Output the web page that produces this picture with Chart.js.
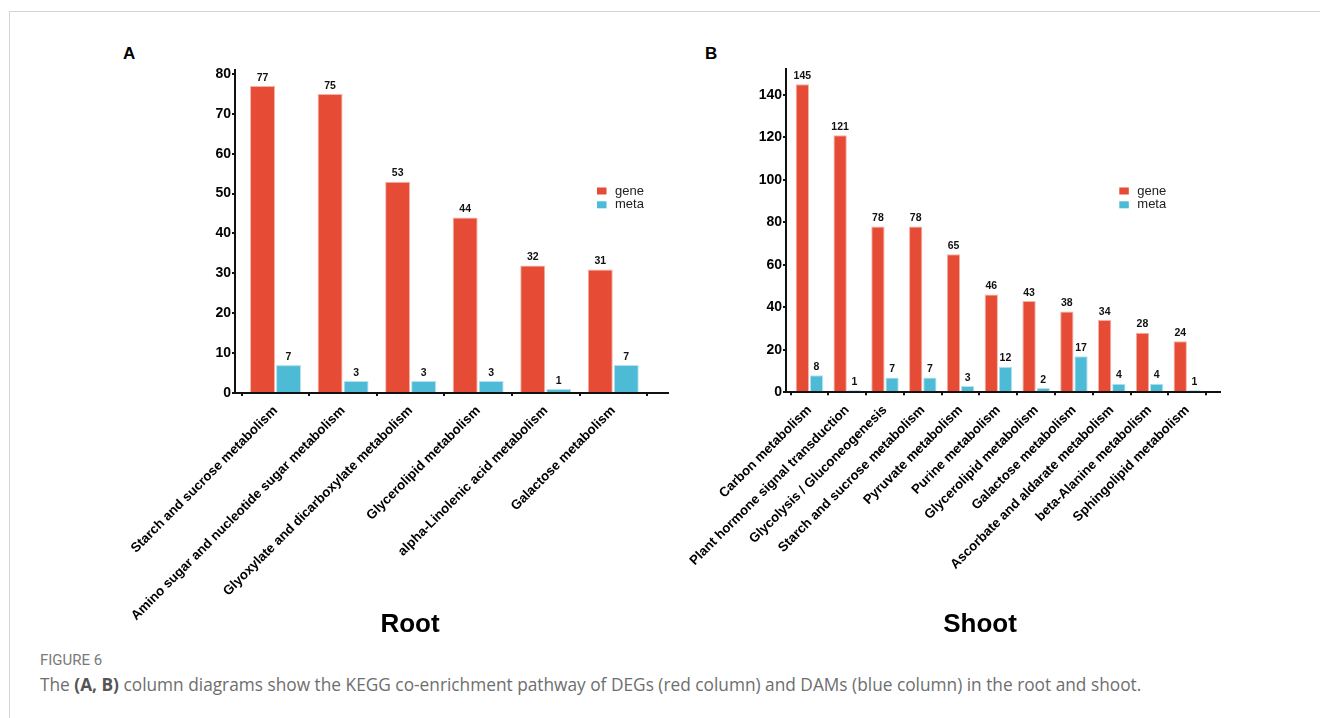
<!DOCTYPE html>
<html>
<head>
<meta charset="utf-8">
<script src="https://cdn.jsdelivr.net/npm/chart.js@4.4.1/dist/chart.umd.min.js"></script>
<style>
  html, body { margin: 0; padding: 0; background: #fff; }
  body { width: 1320px; height: 718px; position: relative; overflow: hidden; }
  .frame { position: absolute; left: 9px; top: 11px; right: 0; bottom: 0;
           border-top: 1px solid #d4d4d4; border-left: 1px solid #d4d4d4; }
  .panel-letter { position: absolute; font: bold 17px "Liberation Sans", Arial, sans-serif; color: #000; }
  .wrap { position: absolute; top: 40px; height: 610px; }
  #wrapA { left: 100px; width: 620px; }
  #wrapB { left: 680px; width: 600px; }
  .fig-no { position: absolute; left: 40px; top: 651px; font: 15px Roboto, sans-serif;
            color: #7a7a7a; }
  .caption { position: absolute; left: 40px; top: 673px; font: 17.3px "Open Sans", sans-serif;
             color: #6e6e6e; white-space: nowrap; }
  .caption b { color: #555; font-weight: 700; }
</style>
</head>
<body>
<div class="frame"></div>
<div class="panel-letter" style="left:123px; top:44px;">A</div>
<div class="panel-letter" style="left:705px; top:44px;">B</div>
<div class="wrap" id="wrapA"><canvas id="chartRoot"></canvas></div>
<div class="wrap" id="wrapB"><canvas id="chartShoot"></canvas></div>
<div class="fig-no">FIGURE 6</div>
<div class="caption">The <b>(A, B)</b> column diagrams show the KEGG co-enrichment pathway of DEGs (red column) and DAMs (blue column) in the root and shoot.</div>

<script>
// ---- Root (panel A) ----
const rootPathways = [
  "Starch and sucrose metabolism",
  "Amino sugar and nucleotide sugar metabolism",
  "Glyoxylate and dicarboxylate metabolism",
  "Glycerolipid metabolism",
  "alpha-Linolenic acid metabolism",
  "Galactose metabolism"
];
const rootGene = [77, 75, 53, 44, 32, 31];
const rootMeta = [7, 3, 3, 3, 1, 7];
const rootTicks = [0, 10, 20, 30, 40, 50, 60, 70, 80];

// ---- Shoot (panel B) ----
const shootPathways = [
  "Carbon metabolism",
  "Plant hormone signal transduction",
  "Glycolysis / Gluconeogenesis",
  "Starch and sucrose metabolism",
  "Pyruvate metabolism",
  "Purine metabolism",
  "Glycerolipid metabolism",
  "Galactose metabolism",
  "Ascorbate and aldarate metabolism",
  "beta-Alanine metabolism",
  "Sphingolipid metabolism"
];
const shootGene = [145, 121, 78, 78, 65, 46, 43, 38, 34, 28, 24];
const shootMeta = [8, 1, 7, 7, 3, 12, 2, 17, 4, 4, 1];
const shootTicks = [0, 20, 40, 60, 80, 100, 120, 140];

const seriesNames = ["gene", "meta"];

const FONT = '"Liberation Sans", Arial, Helvetica, sans-serif';
const GENE_COLOR = '#E64B35';
const GENE_EDGE = '#F3B2A6';
const META_COLOR = '#4DBBD5';
const META_EDGE = '#B5E2EE';
const INK = '#111';

// Count printed above every bar
const valueLabels = {
  id: 'valueLabels',
  afterDatasetsDraw(chart, args, opts) {
    const ctx = chart.ctx;
    ctx.save();
    ctx.font = `bold ${opts.size}px ${FONT}`;
    ctx.fillStyle = INK;
    ctx.textAlign = 'center';
    ctx.textBaseline = 'bottom';
    chart.data.datasets.forEach((ds, di) => {
      chart.getDatasetMeta(di).data.forEach((bar, i) => {
        ctx.fillText(String(ds.data[i].y), bar.x, bar.y - opts.gap);
      });
    });
    ctx.restore();
  }
};

// Small legend placed inside the plot, right of the tallest bars
const inlineLegend = {
  id: 'inlineLegend',
  afterDraw(chart, args, opts) {
    const ctx = chart.ctx;
    const area = chart.chartArea;
    ctx.save();
    ctx.font = `13px ${FONT}`;
    ctx.textAlign = 'left';
    ctx.textBaseline = 'middle';
    chart.data.datasets.forEach((ds, i) => {
      const x = area.right + opts.dx;
      const y = area.top + opts.dy + i * opts.rowGap;
      ctx.fillStyle = ds.backgroundColor;
      ctx.fillRect(x, y - 3.5, 9.5, 7);
      ctx.fillStyle = '#222';
      ctx.fillText(ds.label, x + 18, y);
    });
    ctx.restore();
  }
};

function buildChart(canvasId, cfg) {
  const toPoints = arr => arr.map((v, i) => ({ x: i, y: v }));
  const axisLine = { display: true, color: INK, width: 2 };
  const tickMarks = { display: true, drawOnChartArea: false, drawTicks: true,
                      tickLength: 3, color: INK, lineWidth: 2 };
  return new Chart(document.getElementById(canvasId), {
    type: 'bar',
    data: {
      datasets: [
        { label: seriesNames[0], data: toPoints(cfg.gene),
          backgroundColor: GENE_COLOR, borderColor: GENE_EDGE, borderWidth: 1 },
        { label: seriesNames[1], data: toPoints(cfg.meta),
          backgroundColor: META_COLOR, borderColor: META_EDGE, borderWidth: 1 }
      ]
    },
    options: {
      responsive: true,
      maintainAspectRatio: false,
      animation: false,
      events: [],
      categoryPercentage: cfg.catPct,
      barPercentage: cfg.barPct,
      layout: { padding: { top: cfg.padTop, right: cfg.padRight, bottom: cfg.padBottom, left: cfg.padLeft } },
      scales: {
        x: {
          type: 'linear',
          min: cfg.xMin,
          max: cfg.xMax,
          offset: false,
          border: axisLine,
          grid: tickMarks,
          ticks: {
            autoSkip: false,
            minRotation: 45,
            maxRotation: 45,
            padding: 7,
            color: '#000',
            font: { family: FONT, size: 13.3, weight: 'bold' },
            callback: v => cfg.labels[v]
          },
          afterBuildTicks: s => { s.ticks = cfg.labels.map((_, i) => ({ value: i })); },
          afterFit: s => { s.height = cfg.xAxisHeight; s.paddingLeft = 0; s.paddingRight = 0; }
        },
        y: {
          min: 0,
          max: cfg.yMax,
          border: axisLine,
          grid: tickMarks,
          ticks: {
            padding: 1,
            color: '#000',
            font: { family: FONT, size: 14, weight: 'bold' }
          },
          afterBuildTicks: s => { s.ticks = cfg.ticks.map(v => ({ value: v })); },
          afterFit: s => { s.width = cfg.yAxisWidth; s.paddingTop = 0; s.paddingBottom = 0; }
        }
      },
      plugins: {
        legend: { display: false },
        tooltip: { enabled: false },
        title: {
          display: true,
          text: cfg.title,
          position: 'bottom',
          color: '#000',
          font: { family: FONT, size: 26, weight: 'bold', lineHeight: 1.2 },
          // the rotated category names run into the title band, so the
          // title box is pulled up underneath the axis box
          padding: { top: -15, bottom: 0 }
        },
        valueLabels: { size: cfg.valueFont, gap: 3 },
        inlineLegend: { dx: cfg.legendDx, dy: cfg.legendDy, rowGap: 13.8 }
      }
    },
    plugins: [valueLabels, inlineLegend]
  });
}

buildChart('chartRoot', {
  title: 'Root',
  labels: rootPathways, gene: rootGene, meta: rootMeta, ticks: rootTicks,
  yMax: 81, xMin: -0.6, xMax: 5.81,
  catPct: 0.77, barPct: 0.96,
  padTop: 30, padRight: 52, padBottom: 9.4, padLeft: 52,
  yAxisWidth: 83, xAxisHeight: 231.4,
  valueFont: 10.5, legendDx: -71, legendDy: 121
});

buildChart('chartShoot', {
  title: 'Shoot',
  labels: shootPathways, gene: shootGene, meta: shootMeta, ticks: shootTicks,
  yMax: 152, xMin: -0.62, xMax: 10.865,
  catPct: 0.75, barPct: 0.94,
  padTop: 29.3, padRight: 60, padBottom: 9.4, padLeft: 60,
  yAxisWidth: 46, xAxisHeight: 232.1,
  valueFont: 10.5, legendDx: -100.7, legendDy: 121.7
});
</script>
</body>
</html>
